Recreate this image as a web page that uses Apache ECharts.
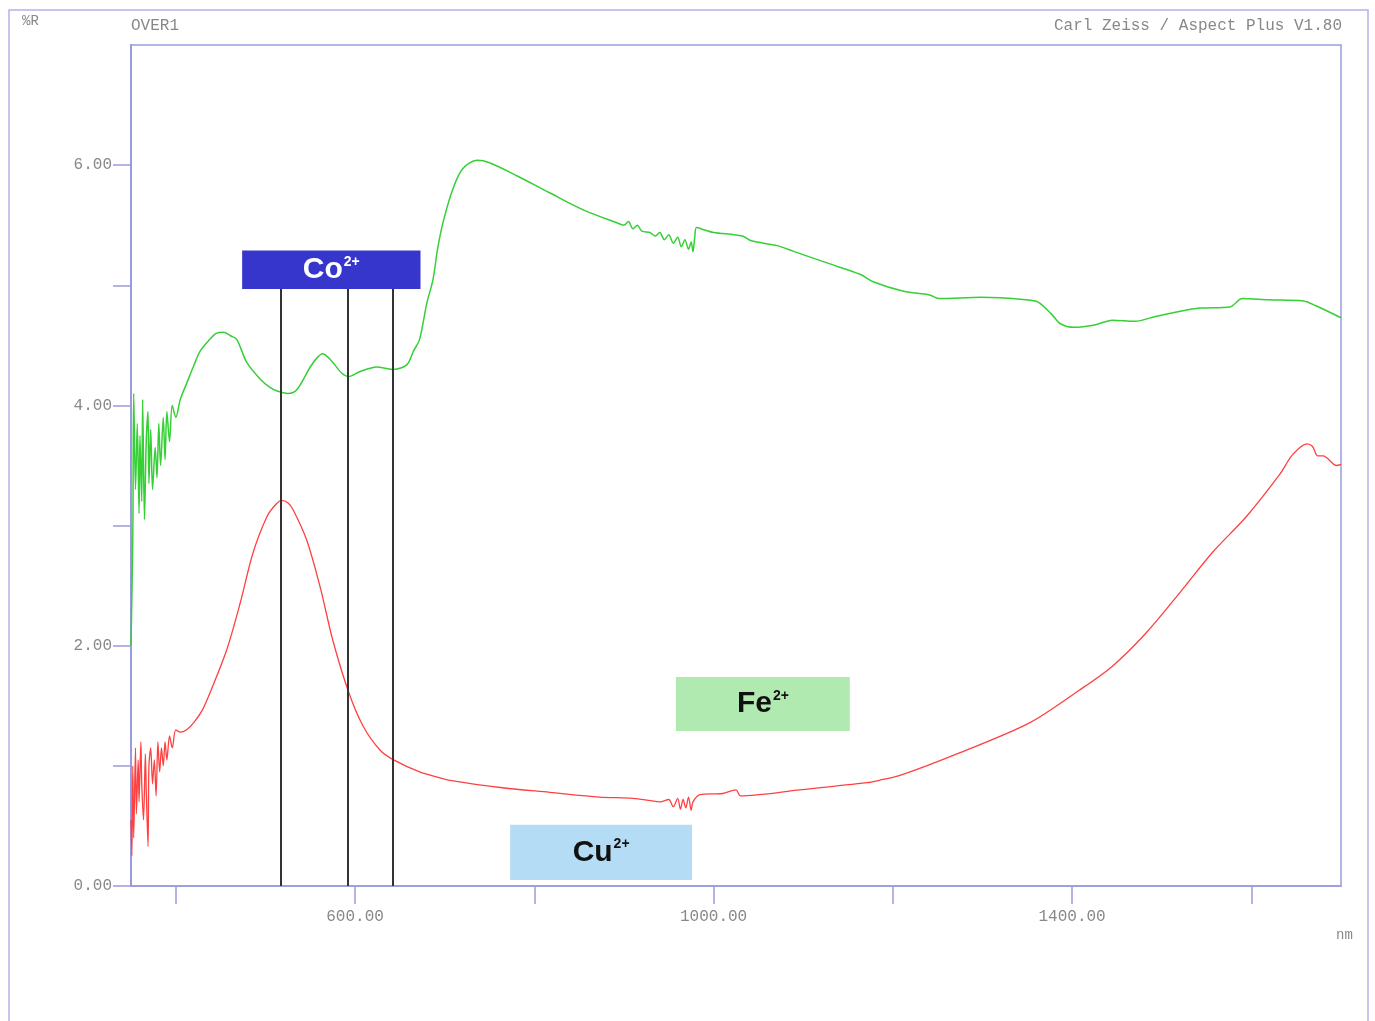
<!DOCTYPE html>
<html lang="en">
  <head>
    <meta charset="utf-8" />
    <title>%R spectrum</title>
    <style>
      * {
        margin: 0;
        padding: 0;
      }
      #chart-container {
        position: relative;
        height: 100vh;
        width: 100vw;
        overflow: hidden;
        background: #fff;
      }
    </style>
  </head>
  <body>
    <div id="chart-container"></div>
    <script src="https://fastly.jsdelivr.net/npm/echarts@6/dist/echarts.min.js"></script>
    <script>
      // green spectrum (nm / %R)
      var greenNm = [350, 352, 353, 355, 357, 359, 360, 362, 363, 365, 367, 369, 370, 372, 374, 377, 379, 381, 383, 386, 388, 390, 393, 396, 400, 405, 413, 420, 427, 438, 445, 453, 461, 468, 479, 494, 505, 513, 525, 535, 550, 558, 564, 570, 575, 585, 593, 605, 624, 643, 658, 665, 672, 680, 687, 692, 698, 709, 720, 736, 750, 781, 817, 854, 892, 900, 905, 910, 915, 920, 929, 935, 940, 945, 950, 955, 960, 964, 968, 972, 975, 977, 979, 981, 990, 1000, 1032, 1042, 1071, 1090, 1129, 1164, 1178, 1212, 1241, 1251, 1299, 1348, 1362, 1377, 1387, 1402, 1425, 1445, 1470, 1493, 1518, 1542, 1576, 1590, 1619, 1658, 1672, 1700];
      var greenR = [2.0, 2.9, 4.1, 3.3, 3.85, 3.1, 3.75, 3.2, 4.05, 3.05, 3.7, 3.95, 3.35, 3.8, 3.3, 3.65, 3.4, 3.85, 3.5, 3.9, 3.55, 3.95, 3.7, 4.0, 3.9, 4.05, 4.2, 4.33, 4.45, 4.55, 4.6, 4.61, 4.58, 4.55, 4.36, 4.22, 4.15, 4.12, 4.1, 4.13, 4.32, 4.4, 4.43, 4.4, 4.36, 4.27, 4.24, 4.28, 4.32, 4.3, 4.34, 4.45, 4.55, 4.85, 5.05, 5.3, 5.52, 5.8, 5.97, 6.04, 6.02, 5.91, 5.77, 5.63, 5.52, 5.5, 5.53, 5.47, 5.5, 5.45, 5.44, 5.41, 5.44, 5.38, 5.42, 5.35, 5.4, 5.32, 5.38, 5.3, 5.36, 5.28, 5.4, 5.48, 5.46, 5.44, 5.41, 5.37, 5.33, 5.28, 5.18, 5.09, 5.03, 4.95, 4.92, 4.89, 4.9, 4.88, 4.86, 4.76, 4.68, 4.65, 4.67, 4.71, 4.7, 4.74, 4.78, 4.81, 4.82, 4.89, 4.88, 4.87, 4.83, 4.73];

      // red spectrum (nm / %R)
      var redNm = [350, 351, 352, 353, 355, 356, 358, 359, 361, 362, 364, 366, 367, 369, 370, 372, 374, 376, 378, 380, 382, 384, 386, 388, 390, 393, 396, 400, 405, 412, 420, 430, 441, 457, 472, 486, 502, 512, 518, 525, 531, 546, 561, 575, 593, 609, 628, 643, 672, 695, 706, 762, 817, 873, 910, 930, 940, 950, 955, 960, 963, 966, 969, 972, 975, 977, 985, 1010, 1025, 1030, 1096, 1171, 1185, 1208, 1275, 1353, 1408, 1445, 1483, 1520, 1557, 1595, 1632, 1646, 1662, 1668, 1674, 1680, 1695, 1700];
      var redR = [0.55, 0.25, 1.0, 0.4, 1.15, 0.6, 1.05, 0.7, 1.2, 0.85, 0.55, 1.1, 0.8, 0.33, 1.0, 1.15, 0.85, 1.05, 0.75, 1.2, 0.95, 1.15, 1.0, 1.2, 1.05, 1.25, 1.15, 1.3, 1.28, 1.3, 1.36, 1.47, 1.66, 1.97, 2.36, 2.77, 3.08, 3.18, 3.21, 3.19, 3.13, 2.88, 2.49, 2.05, 1.61, 1.33, 1.13, 1.05, 0.95, 0.9, 0.88, 0.82, 0.78, 0.74, 0.73, 0.71, 0.7, 0.72, 0.66, 0.73, 0.64, 0.72, 0.65, 0.74, 0.63, 0.7, 0.76, 0.77, 0.8, 0.75, 0.8, 0.86, 0.88, 0.92, 1.11, 1.36, 1.63, 1.83, 2.11, 2.44, 2.78, 3.08, 3.43, 3.59, 3.68, 3.66, 3.58, 3.58, 3.5, 3.51];

      // Co2+ absorption lines (nm)
      var coLines = [517, 592, 642];

      // ion boxes: [nm from, nm to, %R low, %R high]
      var coBox = [474, 673, 4.97, 5.29];
      var feBox = [958, 1152, 1.29, 1.74];
      var cuBox = [773, 976, 0.05, 0.51];

      var xTicks = [400, 600, 800, 1000, 1200, 1400, 1600];
      var xLabels = [600, 1000, 1400];
      var yTicks = [0, 1, 2, 3, 4, 5, 6];
      var yLabels = [0, 2, 4, 6];

      var dom = document.getElementById("chart-container");
      var myChart = echarts.init(dom, null, { renderer: "canvas" });

      var frame = "#9a9ade";
      var mono = "Liberation Mono";
      var labelColor = "#888888";

      function ion(name, color, textColor, box) {
        return [
          {
            coord: [box[0], box[3]],
            itemStyle: { color: color, opacity: 1 },
            label: {
              show: true,
              position: "inside",
              formatter: "{a|" + name + "}{s|2+}",
              rich: {
                a: { fontFamily: "Liberation Sans", fontWeight: "bold", fontSize: 30, color: textColor },
                s: { fontFamily: "Liberation Sans", fontWeight: "bold", fontSize: 14, color: textColor, verticalAlign: "top", padding: [0, 0, 14, 1] },
              },
            },
          },
          { coord: [box[1], box[2]] },
        ];
      }

      var option = {
        animation: false,
        grid: {
          left: 131,
          right: 34,
          top: 45,
          bottom: 135,
          show: true,
          borderColor: frame,
          borderWidth: 1.5,
        },
        xAxis: {
          type: "value",
          min: 350,
          max: 1700,
          axisLine: { show: true, lineStyle: { color: frame, width: 1.5 } },
          axisTick: { show: true, length: 18, customValues: xTicks, lineStyle: { color: frame, width: 1.5 } },
          axisLabel: {
            customValues: xLabels,
            margin: 23,
            fontFamily: mono,
            fontSize: 16,
            color: labelColor,
            formatter: function (v) {
              return v.toFixed(2);
            },
          },
          splitLine: { show: false },
        },
        yAxis: {
          type: "value",
          min: 0,
          max: 7,
          axisLine: { show: true, lineStyle: { color: frame, width: 2 } },
          axisTick: { show: true, length: 18, customValues: yTicks, lineStyle: { color: frame, width: 1.5 } },
          axisLabel: {
            customValues: yLabels,
            margin: 19,
            fontFamily: mono,
            fontSize: 16,
            color: labelColor,
            formatter: function (v) {
              return v.toFixed(2);
            },
          },
          splitLine: { show: false },
        },
        graphic: [
          {
            type: "rect",
            shape: { x: 9, y: 10, width: 1359, height: 1030 },
            style: { fill: null, stroke: "#b4b4e6", lineWidth: 1.5 },
            silent: true,
          },
          { type: "text", left: 22, top: 14, style: { text: "%R", font: "14px " + mono, fill: labelColor } },
          { type: "text", left: 131, top: 18, style: { text: "OVER1", font: "16px " + mono, fill: labelColor } },
          { type: "text", right: 33, top: 18, style: { text: "Carl Zeiss / Aspect Plus V1.80", font: "16px " + mono, fill: labelColor } },
          { type: "text", left: 1336, top: 928, style: { text: "nm", font: "14px " + mono, fill: labelColor } },
        ],
        series: [
          {
            name: "marks",
            type: "line",
            data: [],
            markLine: {
              silent: true,
              symbol: "none",
              label: { show: false },
              lineStyle: { color: "#333", width: 2, type: "solid" },
              data: coLines.map(function (x) {
                return [{ coord: [x, 0] }, { coord: [x, coBox[2]] }];
              }),
            },
            markArea: {
              silent: true,
              data: [
                ion("Co", "#3636cc", "#ffffff", coBox),
                ion("Fe", "#b1eab1", "#111111", feBox),
                ion("Cu", "#b4dcf4", "#111111", cuBox),
              ],
            },
          },
          {
            name: "green",
            type: "line",
            showSymbol: false,
            smooth: 0.3,
            data: greenNm.map(function (x, i) {
              return [x, greenR[i]];
            }),
            lineStyle: { color: "#36d036", width: 1.5 },
            z: 3,
          },
          {
            name: "red",
            type: "line",
            showSymbol: false,
            smooth: 0.3,
            data: redNm.map(function (x, i) {
              return [x, redR[i]];
            }),
            lineStyle: { color: "#ff4040", width: 1.3 },
            z: 3,
          },
        ],
      };

      myChart.setOption(option);
      window.addEventListener("resize", myChart.resize);
    </script>
  </body>
</html>
